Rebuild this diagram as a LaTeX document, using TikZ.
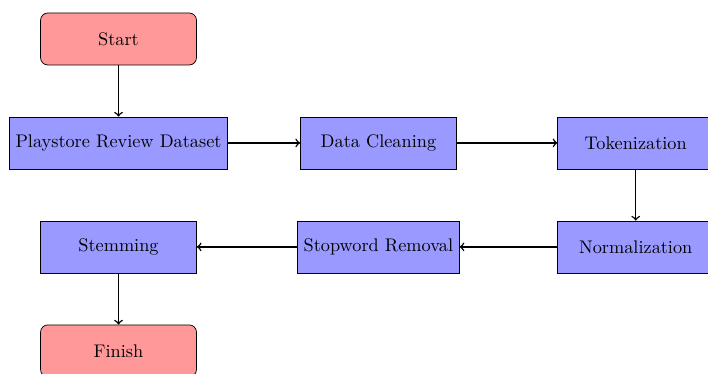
\documentclass[tikz,border=0pt]{standalone}
\usetikzlibrary{positioning}
\tikzset{
  terminal/.style={rectangle, rounded corners, minimum width=3cm, minimum height=1cm,
    align=center, draw=black, fill=red!40},
  process/.style={rectangle, minimum width=3cm, minimum height=1cm,
    align=center, draw=black, fill=blue!40},
  flow/.style={thick, ->}
}
\begin{document}
\begin{tikzpicture}
  \useasboundingbox (-2.28,-6.44) rectangle (11.34,0.75);
  \node[terminal] (start) at (0,0) {Start};
  \node[process] (data) at (0,-2) {Playstore Review Dataset};
  \node[process] (clean) at (5,-2) {Data Cleaning};
  \node[process] (token) at (9.95,-2) {Tokenization};
  \node[process] (norm) at (9.95,-4) {Normalization};
  \node[process] (stop) at (5,-4) {Stopword Removal};
  \node[process] (stem) at (0,-4) {Stemming};
  \node[terminal] (finish) at (0,-6) {Finish};

  \draw[flow] (start) -- (data);
  \draw[flow] (data) -- (clean);
  \draw[flow] (clean) -- (token);
  \draw[flow] (token) -- (norm);
  \draw[flow] (norm) -- (stop);
  \draw[flow] (stop) -- (stem);
  \draw[flow] (stem) -- (finish);
\end{tikzpicture}
\end{document}
